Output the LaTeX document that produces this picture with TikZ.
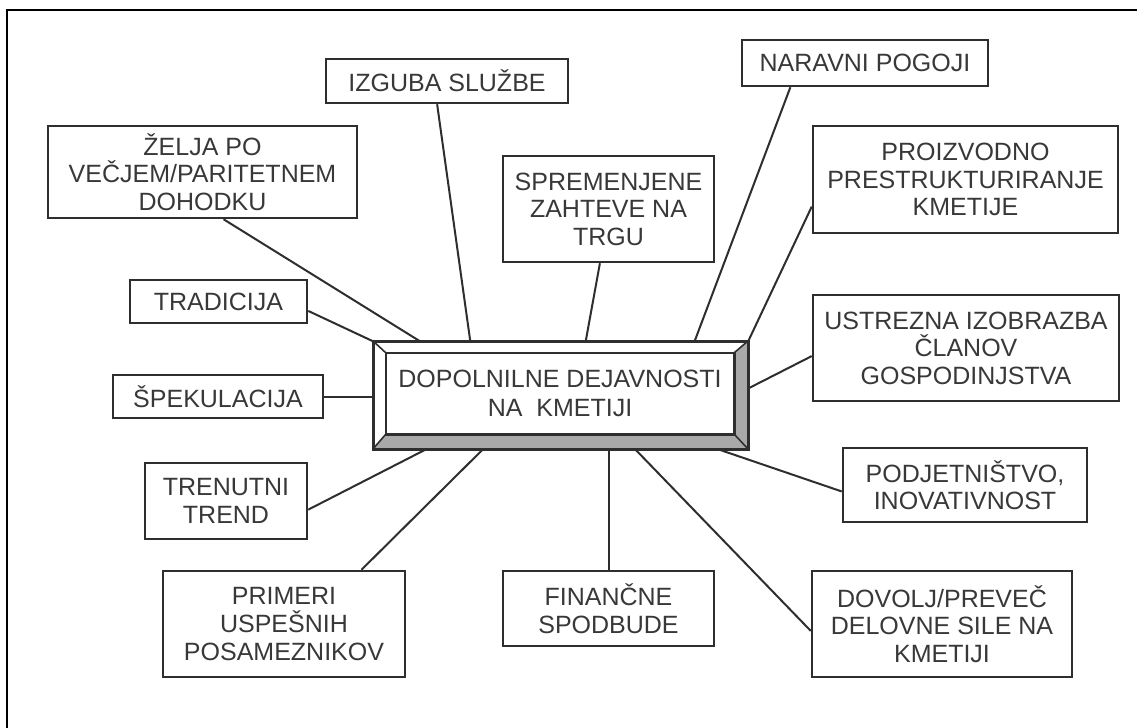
\documentclass[tikz,border=0pt]{standalone}
\usepackage{fontspec}
\newfontfamily\boxfont{Liberation Sans}
\definecolor{linec}{HTML}{2E2E2E}
\definecolor{textc}{HTML}{383838}
\definecolor{bevelc}{HTML}{A9A9A9}
\begin{document}
\begin{tikzpicture}[x=0.5pt, y=-0.5pt,
    cause/.style={draw=linec, line width=1.25pt, align=center, inner sep=0pt, text=textc,
        font=\boxfont\fontsize{12.5}{13.8}\selectfont},
    link/.style={draw=linec, line width=1pt}]

\useasboundingbox (0,0) rectangle (1137,728);
\draw[line width=1pt] (7,728) -- (7,10) -- (1137,10);

% central box with bevel
\node[draw=linec, line width=1.25pt, minimum width=186.5pt, minimum height=53pt] (cen) at (560.5,395) {};
\coordinate (cin-nw) at ([shift={(13,12)}]cen.north west);
\coordinate (cin-ne) at ([shift={(-14,12)}]cen.north east);
\coordinate (cin-se) at ([shift={(-14,-15)}]cen.south east);
\coordinate (cin-sw) at ([shift={(13,-15)}]cen.south west);
\fill[bevelc] (cen.north east) -- (cen.south east) -- (cin-se) -- (cin-ne) -- cycle;
\fill[bevelc] (cen.south west) -- (cen.south east) -- (cin-se) -- (cin-sw) -- cycle;
\draw[linec, line width=1.25pt] (cen.north west) rectangle (cen.south east);
\draw[linec, line width=1.25pt] (cin-nw) rectangle (cin-se);
\draw[linec, line width=0.8pt] (cen.north west) -- (cin-nw) (cen.north east) -- (cin-ne)
    (cen.south east) -- (cin-se) (cen.south west) -- (cin-sw);
\node[text=textc, align=center, font=\boxfont\fontsize{12.5}{14.5}\selectfont] (centxt) at (560,393)
    {DOPOLNILNE DEJAVNOSTI\\NA\ \ KMETIJI};

% causes
\node[cause, minimum width=154.5pt, minimum height=46pt] (zelja) at (202.5,172) {ŽELJA PO\\VEČJEM/PARITETNEM\\DOHODKU};
\node[cause, minimum width=121pt, minimum height=22pt] (izguba) at (447,81) {IZGUBA SLUŽBE};
\node[cause, minimum width=105.5pt, minimum height=53pt] (zahteve) at (608.5,209) {SPREMENJENE\\ZAHTEVE NA\\TRGU};
\node[cause, minimum width=123pt, minimum height=23pt] (naravni) at (865,63) {NARAVNI POGOJI};
\node[cause, minimum width=152.5pt, minimum height=53.5pt] (prestr) at (965.5,179.5) {PROIZVODNO\\PRESTRUKTURIRANJE\\KMETIJE};
\node[cause, minimum width=88.5pt, minimum height=21.5pt] (tradicija) at (218.5,301.5) {TRADICIJA};
\node[cause, minimum width=105pt, minimum height=21.5pt] (spek) at (218,396.5) {ŠPEKULACIJA};
\node[cause, minimum width=153pt, minimum height=53pt] (izobr) at (966,348) {USTREZNA IZOBRAZBA\\ČLANOV\\GOSPODINJSTVA};
\node[cause, minimum width=81pt, minimum height=38pt] (trend) at (226,501) {TRENUTNI\\TREND};
\node[cause, minimum width=122pt, minimum height=37pt] (podj) at (965,485) {PODJETNIŠTVO,\\INOVATIVNOST};
\node[cause, minimum width=121pt, minimum height=53pt] (primeri) at (284,624) {PRIMERI\\USPEŠNIH\\POSAMEZNIKOV};
\node[cause, minimum width=105.5pt, minimum height=37.5pt] (spodb) at (608.5,608.5) {FINANČNE\\SPODBUDE};
\node[cause, minimum width=130pt, minimum height=53pt] (sile) at (942,624) {DOVOLJ/PREVEČ\\DELOVNE SILE NA\\KMETIJI};

% connectors
\draw[link] (zelja.294) -- (cen.159.3);
\draw[link] (izguba.247.7) -- (cen.149.6);
\draw[link] (zahteve.261.9) -- (cen.65.2);
\draw[link] (naravni.198.7) -- (cen.22.3);
\draw[link] (prestr.190.2) -- (cen.16);
\draw[link] (tradicija.354.5) -- (cen.164.3);
\draw[link] (spek.east) -- (spek.east -| cen.west);
\draw[link] (izobr.183.4) -- (cen.2.8);
\draw[link] (trend.354.4) -- (cen.202.9);
\draw[link] (primeri.35.6) -- (cen.215.1);
\draw[link] (spodb.north) -- (spodb.north |- cen.south);
\draw[link] (podj.183.75) -- (cen.341.4);
\draw[link] (sile.183.5) -- (cen.324.6);

\end{tikzpicture}
\end{document}
